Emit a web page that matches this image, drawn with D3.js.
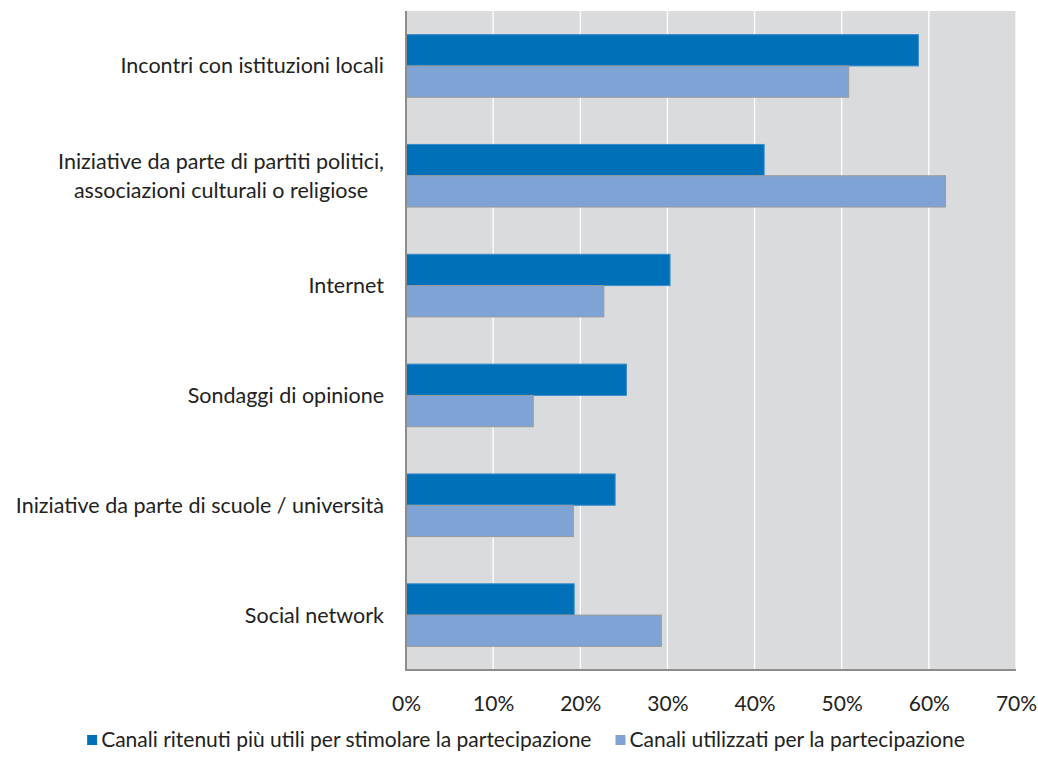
<!DOCTYPE html>
<html>
<head>
<meta charset="utf-8">
<script src="https://cdn.jsdelivr.net/npm/d3@7"></script>
<style>
  html, body { margin: 0; padding: 0; background: #ffffff; }
  svg text { font-family: Lato, "Open Sans", sans-serif; fill: #222222; }
</style>
</head>
<body>
<svg id="chart" width="1038" height="777"></svg>
<script>
// Channels of participation (label lines per category)
const categories = [
  ["Incontri con istituzioni locali"],
  ["Iniziative da parte di partiti politici,", "associazioni culturali o religiose"],
  ["Internet"],
  ["Sondaggi di opinione"],
  ["Iniziative da parte di scuole / università"],
  ["Social network"]
];
const seriesNames = [
  "Canali ritenuti più utili per stimolare la partecipazione",
  "Canali utilizzati per la partecipazione"
];
// shares (%) per category
const usefulValues = [58.8, 41.1, 30.3, 25.3, 24.0, 19.3];
const usedValues   = [50.8, 61.9, 22.7, 14.6, 19.2, 29.3];
const tickValues = [0, 10, 20, 30, 40, 50, 60, 70];

const colors = ["#0070b8", "#7fa3d5"];
const strokes = ["#3b8dcb", "#9a9a9a"];

const svg = d3.select("#chart");
const plotLeft = 406, plotRight = 1016, plotTop = 11, plotBottom = 670;

const x = d3.scaleLinear().domain([0, 70]).range([plotLeft, plotRight]);
const y = d3.scaleBand().domain(d3.range(categories.length)).range([plotTop, plotBottom]).paddingInner(0).paddingOuter(0);
const inner = d3.scaleBand().domain([0, 1]).range([0, y.bandwidth()]).paddingInner(0).paddingOuter(0.754);

// plot background
svg.append("rect").attr("x", plotLeft).attr("y", plotTop)
  .attr("width", plotRight - plotLeft).attr("height", plotBottom - plotTop).attr("fill", "#dadbdd");

// vertical gridlines
svg.append("g").selectAll("line").data(tickValues.slice(1)).join("line")
  .attr("x1", d => x(d)).attr("x2", d => x(d))
  .attr("y1", plotTop).attr("y2", plotBottom)
  .attr("stroke", "#ffffff").attr("stroke-width", 1.3);

// bars
const series = [usefulValues, usedValues];
series.forEach((vals, s) => {
  svg.append("g").selectAll("rect").data(vals).join("rect")
    .attr("x", x(0))
    .attr("y", (d, i) => y(i) + inner(s))
    .attr("width", d => x(d) - x(0))
    .attr("height", inner.bandwidth())
    .attr("fill", colors[s])
    .attr("stroke", strokes[s])
    .attr("stroke-width", 1);
});

// axis lines
svg.append("line").attr("x1", plotLeft).attr("x2", plotLeft).attr("y1", plotTop).attr("y2", plotBottom + 1)
  .attr("stroke", "#8c8c8c").attr("stroke-width", 2);
svg.append("line").attr("x1", plotLeft - 1).attr("x2", plotRight).attr("y1", plotBottom).attr("y2", plotBottom)
  .attr("stroke", "#8c8c8c").attr("stroke-width", 2);

// x tick labels
const xAxis = d3.axisBottom(x).tickValues(tickValues).tickFormat(d => d + "%").tickSize(0).tickPadding(0);
const gx = svg.append("g").attr("transform", `translate(0,${plotBottom + 34})`).call(xAxis);
gx.select(".domain").remove();
gx.selectAll("text").attr("font-size", 21).attr("dy", "0.35em")
  .style("font-family", "Lato, sans-serif").attr("fill", "#222222");

// category labels, right-aligned block, lines centred among themselves
const labelRight = 384;
categories.forEach((lines, i) => {
  const cy = y(i) + y.bandwidth() / 2;
  const g = svg.append("g");
  const lh = 29;
  const texts = lines.map((ln, k) => g.append("text")
    .attr("font-size", 21.5)
    .attr("y", cy + (k - (lines.length - 1) / 2) * lh)
    .attr("dy", "0.35em")
    .text(ln));
  const maxW = d3.max(texts, t => t.node().getComputedTextLength());
  texts.forEach(t => t.attr("text-anchor", "middle").attr("x", labelRight - maxW / 2));
});

// legend, centred under the chart
const legY = 740, sq = 10, sqGap = 4, itemGap = 24, legCenter = 526;
const lg = svg.append("g");
let lx = 0;
seriesNames.forEach((name, s) => {
  lg.append("rect").attr("x", lx).attr("y", legY - sq / 2).attr("width", sq).attr("height", sq).attr("fill", colors[s]);
  const t = lg.append("text").attr("x", lx + sq + sqGap).attr("y", legY).attr("dy", "0.35em").attr("font-size", 21).text(name);
  lx += sq + sqGap + t.node().getComputedTextLength() + itemGap;
});
const legW = lx - itemGap;
lg.attr("transform", `translate(${legCenter - legW / 2},0)`);
</script>
</body>
</html>
